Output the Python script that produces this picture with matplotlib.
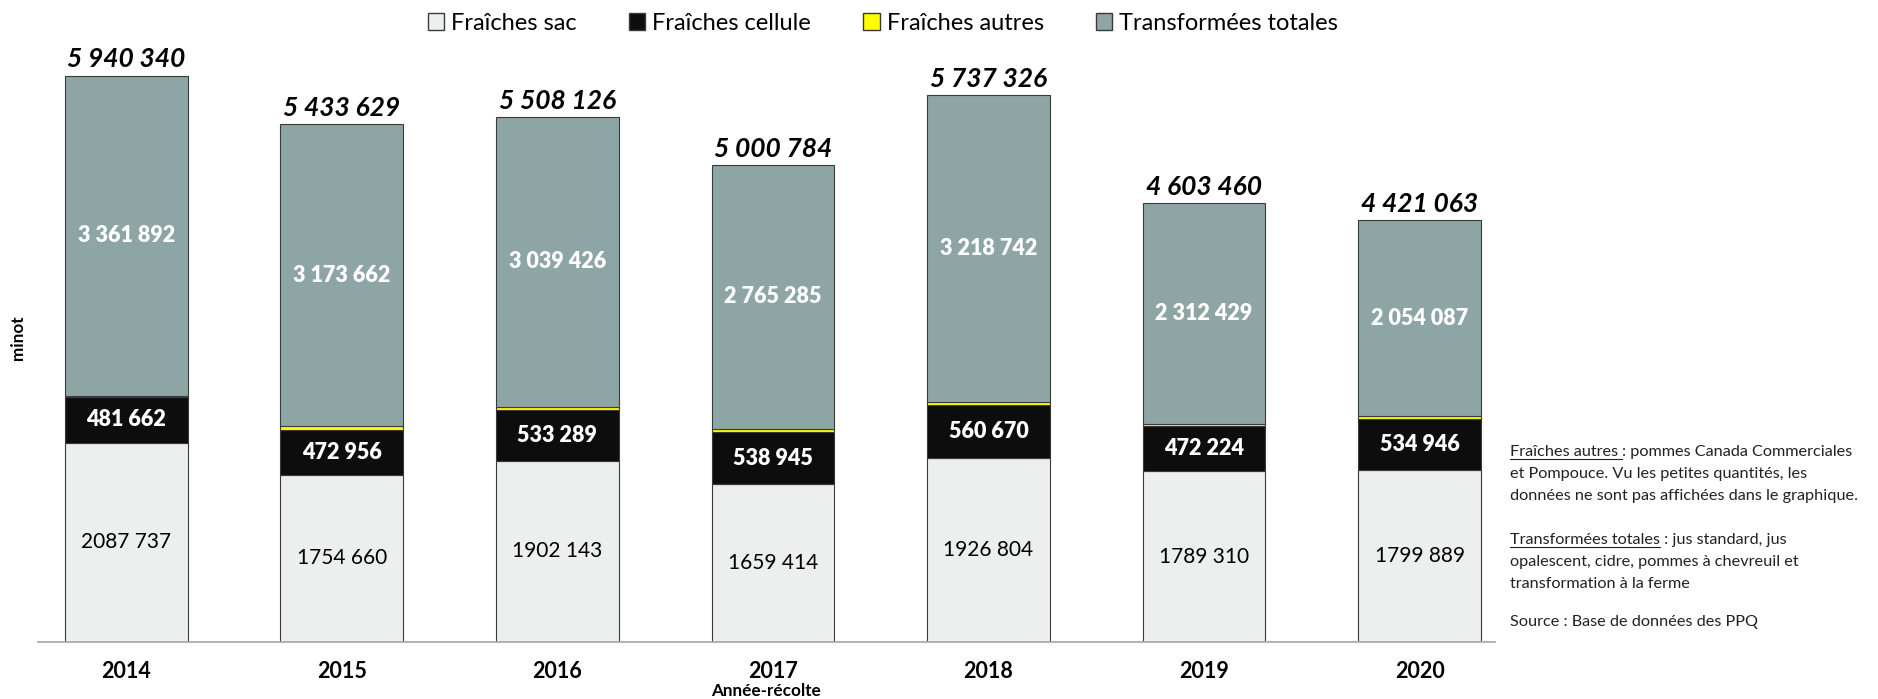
import matplotlib.pyplot as plt
from matplotlib.lines import Line2D
from matplotlib.patches import Patch
import numpy as np

# données (minot) par année-récolte
annees = ['2014', '2015', '2016', '2017', '2018', '2019', '2020']
fraiches_sac = [2087737, 1754660, 1902143, 1659414, 1926804, 1789310, 1799889]
fraiches_cellule = [481662, 472956, 533289, 538945, 560670, 472224, 534946]
fraiches_autres = [9049, 32351, 33268, 37140, 31110, 29497, 32141]
transformees = [3361892, 3173662, 3039426, 2765285, 3218742, 2312429, 2054087]
totaux = [5940340, 5433629, 5508126, 5000784, 5737326, 4603460, 4421063]

c_sac = '#ECEFEE'
c_cell = '#0D0D0D'
c_autres = '#FFFF00'
c_transf = '#8EA5A5'
bord = '#3A3A3A'

plt.rcParams['font.family'] = ['Lato', 'DejaVu Sans']

W, H = 1878, 699
fig = plt.figure(figsize=(W / 100, H / 100), dpi=100)
ax = fig.add_axes([38 / W, (H - 642) / H, (1495 - 38) / W, 642 / H])

x = np.arange(len(annees))
lw = 0.8
larg = 0.57

sac = np.array(fraiches_sac)
cell = np.array(fraiches_cellule)
aut = np.array(fraiches_autres)
trf = np.array(transformees)

ax.bar(x, sac, larg, color=c_sac, edgecolor=bord, linewidth=lw)
ax.bar(x, cell, larg, bottom=sac, color=c_cell, edgecolor=bord, linewidth=lw)
ax.bar(x, aut, larg, bottom=sac + cell, color=c_autres, edgecolor=bord, linewidth=lw)
ax.bar(x, trf, larg, bottom=sac + cell + aut, color=c_transf, edgecolor=bord, linewidth=lw)

def esp(v):
    return f"{v:,}".replace(",", " ")

for i in range(len(annees)):
    ax.text(x[i], sac[i] / 2, f"{sac[i] // 1000} {sac[i] % 1000:03d}",
            ha='center', va='center', fontsize=15, color='black')
    ax.text(x[i], sac[i] + cell[i] / 2, esp(cell[i]),
            ha='center', va='center', fontsize=15.5, color='white', fontweight='heavy')
    ax.text(x[i], sac[i] + cell[i] + aut[i] + trf[i] / 2, esp(trf[i]),
            ha='center', va='center', fontsize=15.5, color='white', fontweight='heavy')
    ax.annotate(esp(totaux[i]), (x[i], totaux[i]), xytext=(0, 3),
                textcoords='offset points', ha='center', va='bottom',
                fontsize=19, fontweight='bold', fontstyle='italic')

ax.set_xlim(-0.41, 6.35)
ax.set_ylim(0, 642 / (566.5 / 5940340))
ax.set_xticks(x)
ax.set_xticklabels(annees, fontsize=15.5, fontweight='bold')
ax.tick_params(axis='x', length=0, pad=14)
ax.set_yticks([])
for s in ['top', 'right', 'left']:
    ax.spines[s].set_visible(False)
ax.spines['bottom'].set_color('#A6A6A6')
ax.spines['bottom'].set_linewidth(1.2)

fig.text(766 / W, 1 - 691 / H, 'Année-récolte', ha='center', va='center',
         fontsize=12.3, fontweight='bold')
fig.text(18 / W, 1 - 338 / H, 'minot', ha='center', va='center',
         fontsize=12.3, fontweight='bold', rotation=90)

# légende
poignees = [Patch(facecolor=c_sac, edgecolor=bord),
            Patch(facecolor=c_cell, edgecolor=bord),
            Patch(facecolor=c_autres, edgecolor=bord),
            Patch(facecolor=c_transf, edgecolor=bord)]
fig.legend(poignees, ['Fraîches sac', 'Fraîches cellule', 'Fraîches autres',
                      'Transformées totales'],
           loc='center', bbox_to_anchor=(883 / W, 1 - 23 / H), ncol=4,
           frameon=False, fontsize=17, handlelength=0.7, handleheight=0.7,
           handletextpad=0.3, columnspacing=2.2)

# notes à droite
fs_note = 11.7
x0 = 1510 / W
rend = fig.canvas.get_renderer()

def souligne(y, debut, suite):
    t = fig.text(x0, y, debut, fontsize=fs_note, va='baseline', color='#222222')
    bb = t.get_window_extent(renderer=rend)
    yl = y - 3 / H
    fig.add_artist(Line2D([bb.x0 / W, bb.x1 / W], [yl, yl], color='#222222', lw=0.8))
    fig.text(bb.x1 / W, y, suite, fontsize=fs_note, va='baseline', color='#222222')

souligne(1 - 456 / H, 'Fraîches autres ', ': pommes Canada Commerciales')
fig.text(x0, 1 - 478 / H, 'et Pompouce. Vu les petites quantités, les',
         fontsize=fs_note, va='baseline', color='#222222')
fig.text(x0, 1 - 500 / H, 'données ne sont pas affichées dans le graphique.',
         fontsize=fs_note, va='baseline', color='#222222')
souligne(1 - 544 / H, 'Transformées totales', ' : jus standard, jus')
fig.text(x0, 1 - 566 / H, 'opalescent, cidre, pommes à chevreuil et',
         fontsize=fs_note, va='baseline', color='#222222')
fig.text(x0, 1 - 588 / H, 'transformation à la ferme',
         fontsize=fs_note, va='baseline', color='#222222')
fig.text(x0, 1 - 626 / H, 'Source : Base de données des PPQ',
         fontsize=fs_note, va='baseline', color='#222222')

fig.savefig('out.png', dpi=100)
